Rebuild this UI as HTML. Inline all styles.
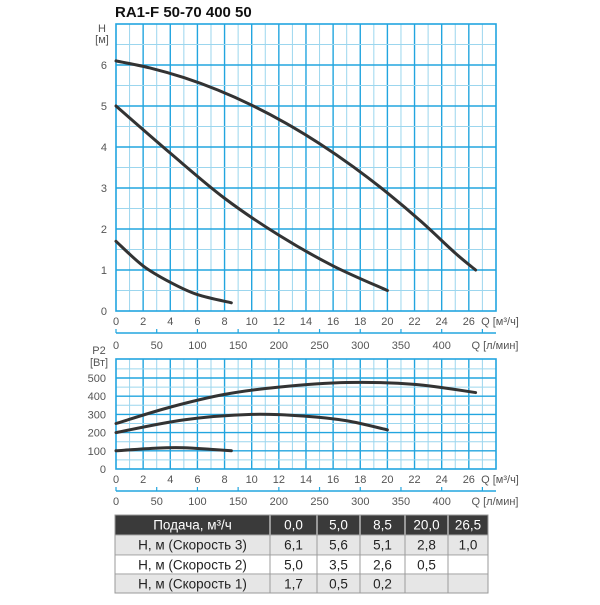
<!DOCTYPE html>
<html><head><meta charset="utf-8"><style>
body{margin:0;background:#fff;width:600px;height:600px;overflow:hidden}
svg text{font-family:"Liberation Sans",sans-serif}
</style></head><body>
<svg id="s" width="600" height="600" xmlns="http://www.w3.org/2000/svg">
<text x="115" y="17" font-size="15" font-weight="bold" fill="#111">RA1-F 50-70 400 50</text>
<g id="g"></g>
</svg>
<script>
const NS="http://www.w3.org/2000/svg",g=document.getElementById('g');
function el(t,a,txt){const e=document.createElementNS(NS,t);for(const k in a)e.setAttribute(k,a[k]);if(txt!=null)e.textContent=txt;g.appendChild(e);return e;}
const X=q=>116+q*13.57, L=116, R=496;
const TY=h=>311-h*41, BY=p=>469-p*0.182;
const light="#9cd6ee", major="#22a5df";
for(let i=1;i<28;i++){el('line',{x1:X(i),x2:X(i),y1:24,y2:311,stroke:i%2?light:major,'stroke-width':i%2?1:1.4});}
for(let k=1;k<=13;k++){const h=k*0.5;el('line',{x1:L,x2:R,y1:TY(h),y2:TY(h),stroke:k%2?light:major,'stroke-width':k%2?1:1.4});}
el('rect',{x:L,y:24,width:R-L,height:287,fill:'none',stroke:major,'stroke-width':1.6});
for(let i=1;i<28;i++){el('line',{x1:X(i),x2:X(i),y1:359,y2:469,stroke:i%2?light:major,'stroke-width':i%2?1:1.4});}
for(let k=1;k<12;k++){const p=k*50;el('line',{x1:L,x2:R,y1:BY(p),y2:BY(p),stroke:k%2?light:major,'stroke-width':k%2?1:1.4});}
el('rect',{x:L,y:359,width:R-L,height:110,fill:'none',stroke:major,'stroke-width':1.6});
const tc="#555",fs=11;
el('text',{x:102,y:32,'font-size':fs,fill:tc,'text-anchor':'middle'},'H');
el('text',{x:102,y:43,'font-size':fs,fill:tc,'text-anchor':'middle'},'[м]');
for(let h=0;h<=6;h++)el('text',{x:107,y:TY(h)+4,'font-size':fs,fill:tc,'text-anchor':'end'},h);
function qaxis(y){for(let q=0;q<=26;q+=2)el('text',{x:X(q),y:y,'font-size':fs,fill:tc,'text-anchor':'middle'},q);}
qaxis(325);el('text',{x:500,y:325,'font-size':fs,fill:tc,'text-anchor':'middle'},'Q [м³/ч]');
function laxis(ly,ty){el('line',{x1:L,x2:R,y1:ly,y2:ly,stroke:major,'stroke-width':1.4});
 for(let l=0;l<=450;l+=50){el('line',{x1:L+l*0.8142,x2:L+l*0.8142,y1:ly-4,y2:ly,stroke:major,'stroke-width':1.2});}
 for(let l=0;l<=400;l+=50)el('text',{x:L+l*0.8142,y:ty,'font-size':fs,fill:tc,'text-anchor':'middle'},l);
 el('text',{x:495,y:ty,'font-size':fs,fill:tc,'text-anchor':'middle'},'Q [л/мин]');}
laxis(333,349);
el('text',{x:99,y:354,'font-size':fs,fill:tc,'text-anchor':'middle'},'P2');
el('text',{x:99,y:366,'font-size':fs,fill:tc,'text-anchor':'middle'},'[Вт]');
for(let p=0;p<=500;p+=100)el('text',{x:106,y:BY(p)+4,'font-size':fs,fill:tc,'text-anchor':'end'},p);
qaxis(483);el('text',{x:500,y:483,'font-size':fs,fill:tc,'text-anchor':'middle'},'Q [м³/ч]');
laxis(491,505);
function curve(pts,fy){const P=pts.map(p=>[X(p[0]),fy(p[1])]);let d='M'+P[0];
 for(let i=0;i<P.length-1;i++){const p0=P[i-1]||P[i],p1=P[i],p2=P[i+1],p3=P[i+2]||P[i+1];
 const c1=[p1[0]+(p2[0]-p0[0])/6,p1[1]+(p2[1]-p0[1])/6],c2=[p2[0]-(p3[0]-p1[0])/6,p2[1]-(p3[1]-p1[1])/6];
 d+=' C'+c1+' '+c2+' '+p2;}
 el('path',{d:d,fill:'none',stroke:'#333','stroke-width':3,'stroke-linecap':'round'});}
const s3=[];for(let q=0;q<=26.5;q+=2.5){s3.push([q,6.1-0.055*q-0.0053*q*q]);}s3.push([26.5,1.0]);
curve(s3,TY);
curve([[0,5],[4,3.85],[8,2.75],[12,1.85],[16,1.1],[20,0.5]],TY);
curve([[0,1.7],[2,1.1],[4,0.7],[6,0.4],[8.5,0.2]],TY);
curve([[0,250],[4,340],[8,410],[12,450],[17,475],[22,465],[26.5,420]],BY);
curve([[0,200],[5,270],[10,300],[14,290],[17,265],[20,215]],BY);
curve([[0,100],[3,115],[5,117],[7,108],[8.5,100]],BY);
const cx=[115,270,317,360,405,448,488];
const rows=[['Подача, м³/ч','0,0','5,0','8,5','20,0','26,5'],['H, м (Скорость 3)','6,1','5,6','5,1','2,8','1,0'],['H, м (Скорость 2)','5,0','3,5','2,6','0,5',''],['H, м (Скорость 1)','1,7','0,5','0,2','','']];
const ry=[515,535,555,574,593];
const bg=['#3a3a3a','#e6e6e6','#ffffff','#e6e6e6'];
for(let r=0;r<4;r++){el('rect',{x:115,y:ry[r],width:373,height:ry[r+1]-ry[r],fill:bg[r]});
 for(let c=0;c<6;c++){
  el('rect',{x:cx[c],y:ry[r],width:cx[c+1]-cx[c],height:ry[r+1]-ry[r],fill:'none',stroke:r==0?'#fff':'#999','stroke-width':0.8});
  el('text',{x:(cx[c]+cx[c+1])/2,y:ry[r]+14.5,'font-size':13.5,fill:r==0?'#fff':'#222','text-anchor':'middle'},rows[r][c]);}}
el('rect',{x:115,y:515,width:373,height:78,fill:'none',stroke:'#999','stroke-width':1});
</script>
</body></html>
